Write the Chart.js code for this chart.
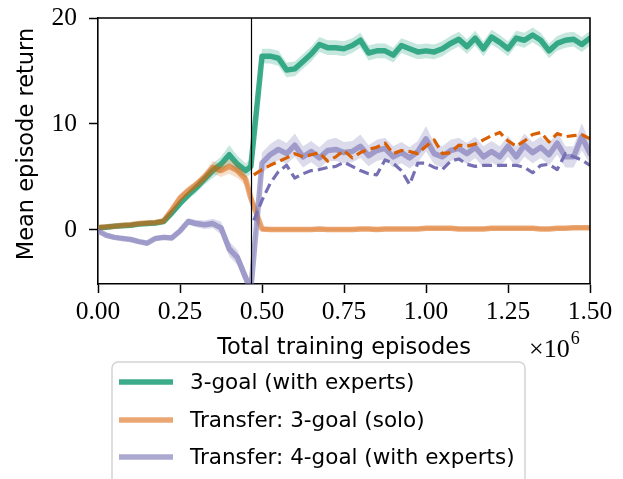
<!DOCTYPE html>
<html>
<head>
<meta charset="utf-8">
<script src="https://cdn.jsdelivr.net/npm/chart.js@4.4.1/dist/chart.umd.min.js"></script>
<style>html,body{margin:0;padding:0;background:#fff;}canvas{display:block;}</style>
</head>
<body>
<canvas id="c" width="623" height="479"></canvas>
<script>
// ---- data ----
const xMain = [0,0.025,0.05,0.075,0.1,0.125,0.15,0.175,0.2,0.225,0.25,0.275,0.3,0.325,0.35,0.375,0.4,0.425,0.45,0.466,
  0.5,0.525,0.55,0.575,0.6,0.625,0.65,0.675,0.7,0.725,0.75,0.775,0.8,0.825,0.85,0.875,0.9,0.925,0.95,0.975,
  1.0,1.025,1.05,1.075,1.1,1.125,1.15,1.175,1.2,1.225,1.25,1.275,1.3,1.325,1.35,1.375,1.4,1.425,1.45,1.475,1.5];
const xDash = [0.475,0.5,0.525,0.55,0.575,0.6,0.625,0.65,0.675,0.7,0.725,0.75,0.775,0.8,0.825,0.85,0.875,0.9,0.925,0.95,0.975,
  1.0,1.025,1.05,1.075,1.1,1.125,1.15,1.175,1.2,1.225,1.25,1.275,1.3,1.325,1.35,1.375,1.4,1.425,1.45,1.475,1.5];
const transferX = 0.466;

const green = [0.2,0.25,0.35,0.4,0.45,0.55,0.6,0.65,0.8,1.6,2.5,3.3,4.0,4.8,5.6,6.2,7.1,6.2,5.6,6.0,
  16.4,16.4,16.2,15.1,15.2,15.9,16.6,17.5,17.2,17.2,17.1,17.4,17.9,16.7,16.9,16.9,16.5,17.4,17.1,16.8,
  16.9,16.8,17.1,17.6,18.0,17.3,18.1,17.1,18.2,17.7,17.1,18.1,17.9,18.4,17.9,16.9,17.6,17.9,18.0,17.5,18.1];
const greenErr = [0.15,0.15,0.15,0.15,0.15,0.2,0.2,0.2,0.2,0.3,0.4,0.4,0.5,0.5,0.7,0.7,0.9,0.8,0.7,0.7,
  0.7,0.7,0.7,0.7,0.7,0.7,0.7,0.7,0.7,0.7,0.7,0.7,0.7,0.7,0.7,0.7,0.7,0.7,0.7,0.7,
  0.7,0.7,0.7,0.7,0.7,0.7,0.7,0.7,0.7,0.7,0.7,0.7,0.7,0.7,0.7,0.7,0.7,0.7,0.7,0.7,0.7];

const orange = [0.2,0.3,0.35,0.45,0.5,0.6,0.65,0.7,0.85,1.9,3.0,3.7,4.3,5.0,5.9,5.6,6.0,5.6,4.8,3.0,
  0.1,0.05,0.05,0.05,0.05,0.05,0.05,0.1,0.05,0.05,0.05,0.05,0.1,0.1,0.05,0.1,0.1,0.1,0.1,0.1,
  0.15,0.15,0.15,0.15,0.1,0.1,0.1,0.1,0.15,0.15,0.15,0.15,0.15,0.15,0.1,0.1,0.15,0.15,0.2,0.2,0.2];
const orangeErr = [0.1,0.1,0.1,0.1,0.1,0.15,0.15,0.15,0.2,0.3,0.4,0.4,0.4,0.5,0.6,0.6,0.7,0.7,0.6,0.5,
  0.2,0.15,0.15,0.15,0.15,0.15,0.15,0.15,0.15,0.15,0.15,0.15,0.15,0.15,0.15,0.15,0.15,0.15,0.15,0.15,
  0.15,0.15,0.15,0.15,0.15,0.15,0.15,0.15,0.15,0.15,0.15,0.15,0.15,0.15,0.15,0.15,0.15,0.15,0.15,0.15,0.15];

const lavender = [-0.1,-0.5,-0.7,-0.8,-0.9,-1.1,-1.25,-0.8,-0.7,-0.75,-0.1,0.8,0.6,0.5,0.6,0.2,-1.8,-2.6,-4.5,-5.6,
  6.3,7.1,7.6,7.2,8.0,6.9,7.4,6.8,7.5,7.6,7.3,7.4,7.9,7.0,7.5,7.7,6.9,7.3,6.8,7.4,
  8.6,7.2,6.9,7.5,7.7,7.2,7.8,6.9,7.4,6.9,7.9,6.9,8.0,7.3,7.8,7.1,8.2,6.9,6.9,8.8,7.2];
const lavenderErr = [0.15,0.2,0.2,0.2,0.2,0.2,0.2,0.2,0.25,0.25,0.3,0.3,0.35,0.4,0.45,0.6,0.7,0.7,0.7,0.7,
  1.0,1.0,1.0,1.0,1.1,1.0,1.0,1.0,1.0,1.1,1.0,1.0,1.1,1.0,1.0,1.0,1.0,1.0,1.0,1.0,
  1.2,1.0,1.0,1.0,1.0,1.0,1.0,1.0,1.0,1.0,1.0,1.0,1.1,1.0,1.0,1.0,1.1,1.0,1.0,1.3,1.0];

const orangeDash = [5.2,5.7,6.1,6.45,6.8,7.2,6.9,7.1,7.3,6.5,6.9,7.5,6.8,7.3,7.6,7.8,8.2,7.2,7.5,7.4,7.2,
  7.9,8.5,7.2,7.3,8.0,7.9,8.1,8.5,8.9,9.2,8.4,7.9,8.4,9.0,9.2,8.3,9.1,8.8,8.9,9.0,8.6];
const purpleDash = [0.9,2.8,4.4,5.5,6.1,4.9,5.3,5.6,5.7,5.9,6.0,6.4,6.0,5.6,5.3,5.2,6.6,6.3,5.6,4.3,6.3,
  6.3,5.9,5.7,6.5,6.7,6.2,6.0,6.1,6.1,6.1,6.1,6.1,5.9,5.4,6.1,6.2,5.7,7.2,6.9,6.6,6.1];

const labels = ['3-goal (with experts)','Transfer: 3-goal (solo)','Transfer: 4-goal (with experts)'];
const yTicks = [0,10,20];
const xTickStep = 0.25;

// ---- styles ----
const C = {
  green: 'rgba(27,158,119,0.85)', greenBand: 'rgba(27,158,119,0.25)',
  orange: 'rgba(217,95,2,0.55)', orangeBand: 'rgba(217,95,2,0.2)',
  lav: 'rgba(117,112,179,0.6)', lavBand: 'rgba(117,112,179,0.25)',
  orangeDash: '#d95f02', purpleDash: '#7570b3'
};

function pts(xs, ys){ return xs.map((x,i)=>({x:x, y:ys[i]})); }
function off(ys, es, s){ return ys.map((v,i)=>v + s*es[i]); }

function bandPair(ys, es, color, order){
  return [
    {data: pts(xMain, off(ys, es, -1)), borderWidth:0, pointRadius:0, fill:false, order:order, clip:0, borderColor:'transparent'},
    {data: pts(xMain, off(ys, es, 1)), borderWidth:0, pointRadius:0, fill:'-1', backgroundColor:color, order:order, clip:0, borderColor:'transparent'}
  ];
}
function lineDs(xs, ys, color, w, order, dash){
  return {data: pts(xs, ys), borderColor:color, borderWidth:w, pointRadius:0, fill:false, tension:0,
    order:order, clip:0, borderDash: dash || [], borderCapStyle: dash ? 'butt' : 'round', borderJoinStyle:'round'};
}

const datasets = [
  ...bandPair(green, greenErr, C.greenBand, 8),
  lineDs(xMain, green, C.green, 5.5, 7),
  ...bandPair(orange, orangeErr, C.orangeBand, 6),
  lineDs(xMain, orange, C.orange, 5.5, 5),
  ...bandPair(lavender, lavenderErr, C.lavBand, 4),
  lineDs(xMain, lavender, C.lav, 5.5, 3),
  lineDs(xDash, orangeDash, C.orangeDash, 3.2, 1, [10,5]),
  lineDs(xDash, purpleDash, C.purpleDash, 3.2, 0, [10,5])
];

const serif = '"Liberation Serif", "DejaVu Serif", serif';
const sans = '"DejaVu Sans", sans-serif';

const decor = {
  id: 'decor',
  afterDatasetsDraw(chart){
    const ctx = chart.ctx, a = chart.chartArea, xs = chart.scales.x;
    ctx.save();
    ctx.strokeStyle = '#000'; ctx.lineWidth = 1.2;
    const vx = Math.round(xs.getPixelForValue(transferX)) + 0.5;
    ctx.beginPath(); ctx.moveTo(vx, a.top); ctx.lineTo(vx, a.bottom); ctx.stroke();
    ctx.restore();
  },
  afterDraw(chart){
    const ctx = chart.ctx, a = chart.chartArea;
    ctx.save();
    // top/right spines
    ctx.strokeStyle = '#000'; ctx.lineWidth = 1.6;
    ctx.beginPath(); ctx.moveTo(a.left, a.top); ctx.lineTo(a.right, a.top); ctx.lineTo(a.right, a.bottom); ctx.stroke();
    // axis titles
    ctx.fillStyle = '#000';
    ctx.font = '22.5px ' + sans;
    ctx.textAlign = 'center'; ctx.textBaseline = 'middle';
    ctx.fillText('Total training episodes', (a.left + a.right)/2, 348);
    ctx.save();
    ctx.translate(27, 144); ctx.rotate(-Math.PI/2);
    ctx.fillText('Mean episode return', 0, 0);
    ctx.restore();
    // multiplier
    ctx.textAlign = 'left'; ctx.textBaseline = 'alphabetic';
    ctx.font = '26px ' + serif;
    ctx.fillText('\u00d710', 529, 357);
    const w = ctx.measureText('\u00d710').width;
    ctx.font = '18px ' + serif;
    ctx.fillText('6', 529 + w + 1, 344);
    // legend
    const lx = 112, ly = 362, lw = 413, lh = 140, r = 6;
    ctx.fillStyle = 'rgba(255,255,255,0.85)';
    ctx.strokeStyle = '#d4d4d4'; ctx.lineWidth = 1.5;
    ctx.beginPath();
    ctx.moveTo(lx + r, ly); ctx.lineTo(lx + lw - r, ly); ctx.arcTo(lx + lw, ly, lx + lw, ly + r, r);
    ctx.lineTo(lx + lw, ly + lh); ctx.lineTo(lx, ly + lh); ctx.lineTo(lx, ly + r); ctx.arcTo(lx, ly, lx + r, ly, r);
    ctx.closePath(); ctx.fill(); ctx.stroke();
    const cols = [C.green, C.orange, C.lav];
    const ys = [382, 420, 457];
    ctx.font = '21.5px ' + sans; ctx.textBaseline = 'middle'; ctx.textAlign = 'left';
    labels.forEach((t, i) => {
      ctx.strokeStyle = cols[i]; ctx.lineWidth = 5.5; ctx.lineCap = 'butt';
      ctx.beginPath(); ctx.moveTo(119, ys[i]); ctx.lineTo(173, ys[i]); ctx.stroke();
      ctx.fillStyle = '#000';
      ctx.fillText(t, 190, ys[i] + 1);
    });
    ctx.restore();
  }
};

new Chart(document.getElementById('c'), {
  type: 'line',
  data: { datasets },
  options: {
    responsive: false, animation: false, devicePixelRatio: 1,
    layout: { padding: { top: 18, right: 33, left: 0, bottom: 0 } },
    plugins: { legend: { display: false }, tooltip: { enabled: false }, filler: { propagate: false } },
    scales: {
      x: {
        type: 'linear', min: 0, max: 1.5,
        afterFit(s){ s.height = 195; s.paddingLeft = 0; s.paddingRight = 0; },
        ticks: { stepSize: xTickStep, color: '#000', font: { family: serif, size: 25.5 }, padding: 4,
          maxRotation: 0, autoSkip: false, callback: v => Number(v).toFixed(2) },
        grid: { drawOnChartArea: false, drawTicks: true, tickLength: 9, tickWidth: 1.5, tickColor: '#000' },
        border: { display: true, color: '#000', width: 1.6 }
      },
      y: {
        type: 'linear', min: -5.1, max: 20,
        afterFit(s){ s.width = 98; s.paddingTop = 0; s.paddingBottom = 0; },
        afterBuildTicks(s){ s.ticks = yTicks.map(v => ({ value: v })); },
        ticks: { color: '#000', font: { family: serif, size: 25.5 }, padding: 12, callback: v => String(v) },
        grid: { drawOnChartArea: false, drawTicks: true, tickLength: 9, tickWidth: 1.5, tickColor: '#000' },
        border: { display: true, color: '#000', width: 1.6 }
      }
    }
  },
  plugins: [decor]
});
</script>
</body>
</html>
